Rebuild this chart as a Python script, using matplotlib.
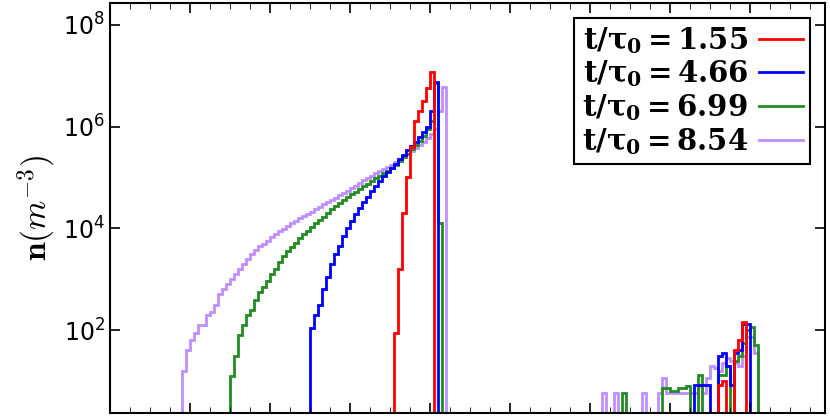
import numpy as np
import matplotlib
matplotlib.use("Agg")
import matplotlib.pyplot as plt

labels = ["1.55", "4.66", "6.99", "8.54"]
colors = ["red", "blue", "forestgreen", "#bf8fff"]
bw = 0.05

# main peak: (start edge, log10 values per bin)
red_start = 3.55
red_log = [1.94, 3.2, 4.3, 5.0, 5.6, 6.1, 6.3, 6.5, 6.75, 7.08]
blue_start = 2.50
blue_log = [2.05, 2.3, 2.5, 2.8, 3.05, 3.3, 3.5, 3.65, 3.85, 4.0, 4.15, 4.28, 4.4, 4.52,
            4.62, 4.73, 4.83, 4.93, 5.02, 5.1, 5.18, 5.27, 5.36, 5.45, 5.53, 5.62, 5.7,
            5.8, 5.9, 6.0, 6.3, 6.87]
green_start = 1.50
green_log = [1.1, 1.5, 1.9, 2.1, 2.3, 2.4, 2.6, 2.75, 2.85, 2.97, 3.1, 3.2, 3.33, 3.45,
             3.55, 3.63, 3.72, 3.8, 3.88, 3.95, 4.02, 4.1, 4.17, 4.23, 4.3, 4.37, 4.44,
             4.5, 4.56, 4.62, 4.67, 4.72, 4.77, 4.83, 4.88, 4.93, 4.98, 5.03, 5.08, 5.13,
             5.18, 5.25, 5.32, 5.4, 5.47, 5.55, 5.63, 5.72, 5.82, 5.95, 6.1, 6.86, 4.1]
purple_start = 0.90
purple_log = [1.2, 1.6, 1.8, 1.95, 2.1, 2.1, 2.3, 2.35, 2.5, 2.7, 2.8, 2.9, 3.0, 3.1, 3.2,
              3.3, 3.4, 3.5, 3.58, 3.65, 3.7, 3.76, 3.82, 3.88, 3.94, 3.99, 4.05, 4.1,
              4.15, 4.2, 4.24, 4.28, 4.33, 4.37, 4.42, 4.47, 4.51, 4.56, 4.6, 4.65, 4.7,
              4.74, 4.79, 4.84, 4.89, 4.94, 4.98, 5.03, 5.08, 5.12, 5.17, 5.21, 5.25,
              5.3, 5.36, 5.42, 5.47, 5.52, 5.58, 5.64, 5.7, 5.77, 5.85, 5.95, 6.3, 6.78]

# secondary cluster: bins from 6.0, sparse {bin index: log10 value}
sec_start = 6.0
sec_nbins = 46
red_sec = {32: 0.92, 33: 1.0, 36: 1.6, 37: 1.8, 38: 2.16}
blue_sec = {26: 0.92, 27: 0.92, 28: 0.92, 29: 0.92, 32: 1.5, 33: 1.55, 34: 1.3,
            35: 0.92, 36: 1.55, 37: 1.6, 38: 2.12, 39: 2.12}
green_sec = {8: 0.76, 18: 0.86, 19: 0.86, 20: 0.8, 21: 0.8, 22: 0.86, 23: 0.86, 24: 0.9,
             27: 1.12, 32: 1.12, 33: 1.12, 34: 1.3, 36: 1.4, 37: 1.5, 38: 1.75,
             39: 2.0, 40: 2.06, 41: 1.7}
purple_sec = {3: 0.76, 6: 0.76, 13: 0.76, 17: 0.76, 18: 1.06, 19: 0.76, 20: 0.76,
              21: 0.76, 22: 0.76, 23: 0.76, 24: 0.76, 25: 0.76, 26: 0.76, 27: 0.9,
              28: 0.76, 29: 1.06, 30: 1.3, 31: 1.25, 32: 1.2, 33: 1.35, 34: 1.45,
              35: 1.4, 36: 1.35, 37: 1.3, 38: 1.5, 39: 1.86, 40: 1.86, 41: 1.55}

mains = [(red_start, red_log), (blue_start, blue_log), (green_start, green_log),
         (purple_start, purple_log)]
secs = [red_sec, blue_sec, green_sec, purple_sec]

fig = plt.figure(figsize=(8.30, 4.17), dpi=100)
ax = fig.add_axes([0.1325, 0.0096, 0.8615, 0.9834])
floor = -1.0
for k in [3, 2, 1, 0]:
    s, lg = mains[k]
    vals = np.array([floor] + list(lg) + [floor])
    edges = s + bw * np.arange(-1, len(lg) + 2)
    ax.stairs(10 ** vals, edges, color=colors[k], lw=2, baseline=None)
    sv = np.full(sec_nbins, floor)
    for i, v in secs[k].items():
        sv[i] = v
    sedges = sec_start + bw * np.arange(sec_nbins + 1)
    ax.stairs(10 ** sv, sedges, color=colors[k], lw=2, baseline=None)

for k in range(4):
    ax.plot([], [], color=colors[k], lw=2,
            label=r"$\mathbf{t/\tau_0 = %s}$" % labels[k])

ax.set_yscale("log")
ax.set_ylim(10 ** 0.37, 10 ** 8.43)
ax.set_xlim(0, 8.94)
ax.set_xticks(np.arange(1, 9))
ax.set_xticks(np.arange(0.25, 8.94, 0.25), minor=True)
ax.set_xticklabels([])
ax.set_yticks([1e2, 1e4, 1e6, 1e8])
ax.tick_params(axis="both", which="both", direction="in", top=True, right=True)
ax.tick_params(axis="both", which="major", length=7, width=1.2, labelsize=17)
ax.tick_params(axis="both", which="minor", length=4)
ax.tick_params(axis="y", which="minor", left=False, right=False)
for sp in ax.spines.values():
    sp.set_linewidth(1.5)
yl = ax.set_ylabel(r"$\mathbf{n}(m^{-3})$", fontsize=24, labelpad=4)
yl.set_math_fontfamily("cm")
leg = ax.legend(loc="upper right", fontsize=21, markerfirst=False, fancybox=False,
                edgecolor="black", framealpha=1, handlelength=1.5,
                borderpad=0.25, labelspacing=0.1, handletextpad=0.4,
                borderaxespad=0.5)
for t in leg.get_texts():
    t.set_math_fontfamily("dejavuserif")
leg.get_frame().set_linewidth(1.5)
fig.savefig("out.png", dpi=100)
